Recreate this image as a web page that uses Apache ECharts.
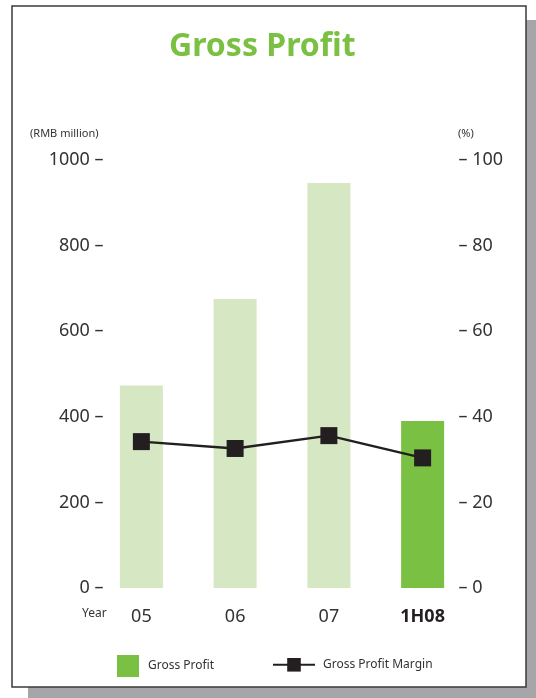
<!DOCTYPE html>
<html>
<head>
<meta charset="utf-8">
<script src="https://cdn.jsdelivr.net/npm/echarts@6/dist/echarts.min.js"></script>
<style>
  html, body { margin: 0; padding: 0; background: #fff; }
  #chart { width: 536px; height: 698px; }
</style>
</head>
<body>
<div id="chart"></div>
<script>
// Gross profit (RMB million) and gross profit margin (%)
const years = ['05', '06', '07', '1H08'];
const grossProfit = [473, 675, 946, 390];
const grossMargin = [34.2, 32.6, 35.6, 30.4];
const leftTicks = [0, 200, 400, 600, 800, 1000];
const rightTicks = [0, 20, 40, 60, 80, 100];

const FONT = '"Noto Sans", "Open Sans", sans-serif';
const LIGHT = '#d5e8c3';
const GREEN = '#7ac143';

const chart = echarts.init(document.getElementById('chart'));

const option = {
  animation: false,
  textStyle: { fontFamily: FONT },
  graphic: [
    // drop shadow + framed box
    { type: 'rect', z: -10, shape: { x: 28, y: 20, width: 508, height: 678 }, style: { fill: '#a6a6a8' } },
    { type: 'rect', z: -9, shape: { x: 12, y: 6, width: 514, height: 681 }, style: { fill: '#fff', stroke: '#3a3a3a', lineWidth: 1.5 } },
    { type: 'text', left: 30, top: 128, style: { text: '(RMB million)', font: '11px ' + FONT, fill: '#333' } },
    { type: 'text', left: 458, top: 128, style: { text: '(%)', font: '11px ' + FONT, fill: '#333' } },
    { type: 'text', left: 82, top: 608, style: { text: 'Year', font: '12px ' + FONT, fill: '#333' } }
  ],
  title: {
    text: 'Gross Profit',
    left: 164,
    top: 26,
    textStyle: { color: GREEN, fontSize: 32, fontWeight: 'bold', fontFamily: FONT }
  },
  legend: [
    {
      data: ['Gross Profit'],
      left: 112, top: 650,
      itemWidth: 22, itemHeight: 22,
      itemGap: 14,
      icon: 'rect',
      textStyle: { fontSize: 12, color: '#333', padding: [0, 0, 0, 4] }
    },
    {
      data: ['Gross Profit Margin'],
      left: 267, top: 653,
      itemWidth: 42, itemHeight: 17,
      textStyle: { fontSize: 12, color: '#333', padding: [0, 0, 0, 3] }
    }
  ],
  grid: { left: 94.5, right: 66.5, top: 160, bottom: 110 },
  xAxis: {
    type: 'category',
    data: years,
    axisLine: { show: false },
    axisTick: { show: false },
    axisLabel: {
      interval: 0,
      margin: 20,
      fontSize: 18,
      color: '#333',
      formatter: v => (v === '1H08' ? '{b|' + v + '}' : v),
      rich: { b: { fontSize: 18, fontWeight: 'bold', color: '#231f20' } }
    }
  },
  yAxis: [
    {
      type: 'value',
      min: 0, max: 1000, interval: 200,
      axisLine: { show: false },
      axisTick: { show: false },
      splitLine: { show: false },
      axisLabel: {
        margin: -9,
        fontSize: 18,
        color: '#333',
        formatter: v => (leftTicks.includes(v) ? v + ' \u2013' : '')
      }
    },
    {
      type: 'value',
      min: 0, max: 100, interval: 20,
      position: 'right',
      axisLine: { show: false },
      axisTick: { show: false },
      splitLine: { show: false },
      axisLabel: {
        margin: -11,
        fontSize: 18,
        color: '#333',
        formatter: v => (rightTicks.includes(v) ? '\u2013 ' + v : '')
      }
    }
  ],
  series: [
    {
      name: 'Gross Profit',
      type: 'bar',
      yAxisIndex: 0,
      barWidth: 43,
      itemStyle: { color: GREEN },
      data: grossProfit.map((v, i) =>
        i < grossProfit.length - 1 ? { value: v, itemStyle: { color: LIGHT } } : v
      )
    },
    {
      name: 'Gross Profit Margin',
      type: 'line',
      yAxisIndex: 1,
      data: grossMargin,
      symbol: 'rect',
      symbolSize: 17,
      lineStyle: { color: '#231f20', width: 2.5 },
      itemStyle: { color: '#231f20' },
      z: 5
    }
  ]
};

chart.setOption(option);
</script>
</body>
</html>
